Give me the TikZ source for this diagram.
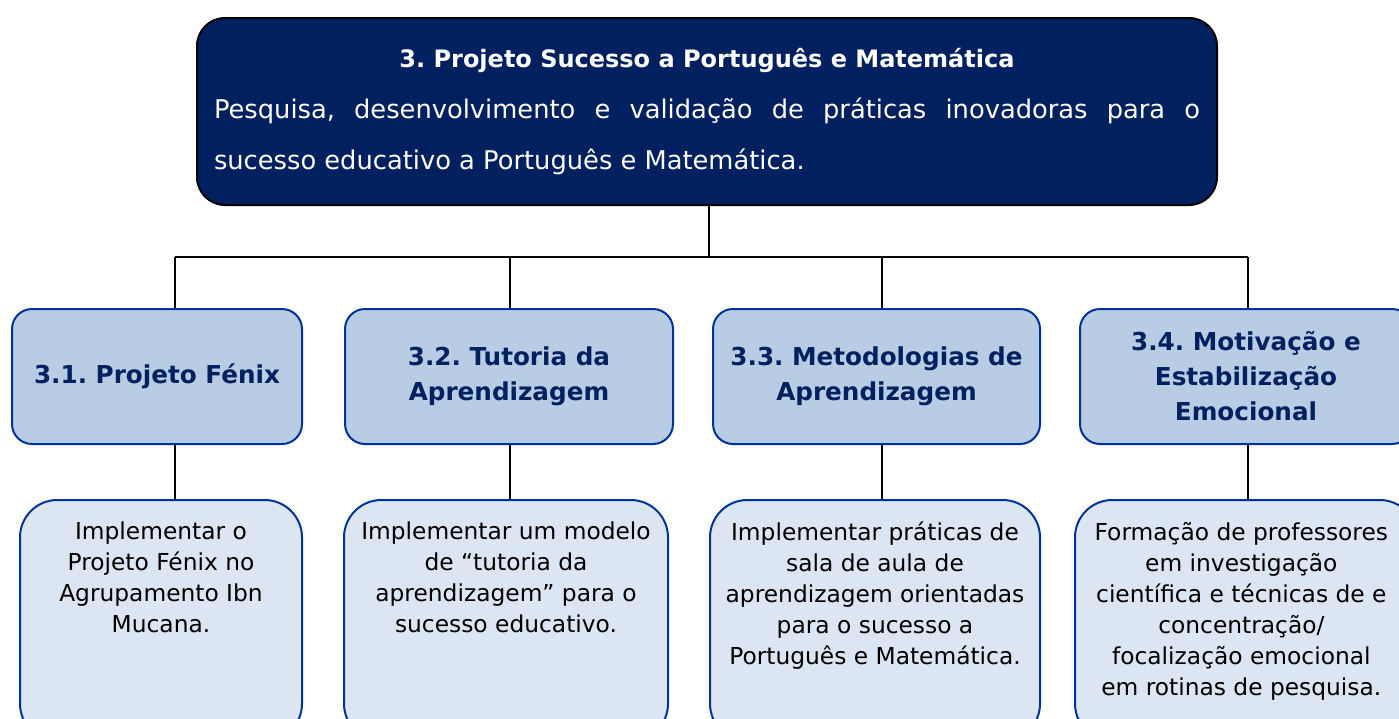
\documentclass[tikz,border=0pt]{standalone}
\usepackage{fontspec}
\setmainfont{DejaVu Sans}
\usetikzlibrary{positioning}
\setlength{\parindent}{0pt}
\frenchspacing

\definecolor{navy}{RGB}{0,32,96}
\definecolor{headfill}{RGB}{184,204,228}
\definecolor{leaffill}{RGB}{220,230,242}
\definecolor{edgeblue}{RGB}{0,51,153}

\begin{document}
\begin{tikzpicture}[x=0.75pt,y=0.75pt,yscale=-1,xscale=1,
  head/.style={draw=edgeblue,line width=1.5pt,fill=headfill,rounded corners=15pt,inner sep=0pt,align=center,text=navy,font=\fontsize{18.5}{26.25}\selectfont\bfseries,minimum height=101.25pt},
  leaf/.style={draw=edgeblue,line width=1.5pt,fill=leaffill,rounded corners=28pt,inner sep=0pt,minimum height=180.75pt,anchor=north},
  leaftext/.style={inner sep=0pt,align=center,font=\fontsize{17.5}{23.25}\selectfont},
  link/.style={line width=1.1pt}]
\useasboundingbox (0,0) rectangle (1399,718);
\clip (0,0) rectangle (1399,718);

%Shape: top box
\node[draw=black,line width=1.5pt,fill=navy,rounded corners=21pt,minimum width=765pt,minimum height=140.25pt,inner sep=0pt,text width=739.5pt,align=justify,text=white,font=\fontsize{19.3}{38}\selectfont] (top) at (707,111.5)
  {{\centering\fontsize{18}{38}\selectfont\bfseries 3. Projeto Sucesso a Português e Matemática\par}Pesquisa, desenvolvimento e validação de práticas inovadoras para o\linebreak sucesso educativo a Português e Matemática.};

%Shape: second row
\node[head,minimum width=217.5pt] (a1) at (157,376.5) {3.1. Projeto Fénix};
\node[head,minimum width=246pt] (a2) at (509,376.5) {3.2. Tutoria da\\Aprendizagem};
\node[head,minimum width=245.25pt] (a3) at (876.5,376.5) {3.3. Metodologias de\\Aprendizagem};
\node[head,minimum width=249pt] (a4) at (1246,376.5) {3.4. Motivação e\\Estabilização\\Emocional};

%Shape: third row
\node[leaf,minimum width=211.5pt] (b1) at (161,499) {};
\node[leaf,minimum width=243pt] (b2) at (506,499) {};
\node[leaf,minimum width=247.5pt] (b3) at (875,499) {};
\node[leaf,minimum width=256.5pt] (b4) at (1246,499) {};

% Text Node
\node[leaftext,below=17pt of b1.north] (t1) {Implementar o\\Projeto Fénix no\\Agrupamento Ibn\\Mucana.};
% Text Node
\node[leaftext,below=17pt of b2.north] (t2) {Implementar um modelo\\de “tutoria da\\aprendizagem” para o\\sucesso educativo.};
% Text Node
\node[leaftext,below=17pt of b3.north] (t3) {Implementar práticas de\\sala de aula de\\aprendizagem orientadas\\para o sucesso a\\Português e Matemática.};
% Text Node
\node[leaftext,below=17pt of b4.north,xshift=-3.5pt] (t4) {Formação de professores\\em investigação\\científica e técnicas de e\\concentração/\\focalização emocional\\em rotinas de pesquisa.};

%Straight Lines
\coordinate (hub) at (709,257);
\coordinate (k1) at (175,257);
\coordinate (k2) at (510,257);
\coordinate (k3) at (882,257);
\coordinate (k4) at (1248,257);
\draw[link] (hub |- top.south) -- (hub);
\draw[link] (k1) -- (k4);
\foreach \i in {1,...,4} {
  \draw[link] (k\i) -- (k\i |- a\i.north);
  \draw[link] (k\i |- a\i.south) -- (k\i |- b\i.north);
}

\end{tikzpicture}
\end{document}
